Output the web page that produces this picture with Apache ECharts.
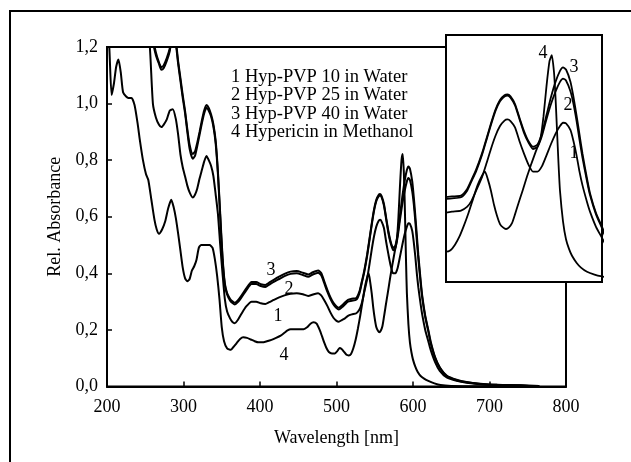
<!DOCTYPE html>
<html><head><meta charset="utf-8">
<script src="https://cdn.jsdelivr.net/npm/echarts@6/dist/echarts.min.js"></script>
<style>html,body{margin:0;padding:0;background:#fff}#c{width:631px;height:462px}</style>
</head><body><div id="c"></div>
<script>
// ---- data ----
const xTickValues = [200, 300, 400, 500, 600, 700, 800];
const yTickValues = [0, 0.2, 0.4, 0.6, 0.8, 1.0, 1.2];
const legendLines = ['1 Hyp-PVP 10 in Water', '2 Hyp-PVP 25 in Water', '3 Hyp-PVP 40 in Water', '4 Hypericin in Methanol'];
const curveNumbers = ['1', '2', '3', '4'];

// wavelengths (nm) shared by the three aqueous Hyp-PVP curves
const wlWater = [
  250, 256, 260, 264, 268, 271, 274, 278, 282, 286,
  290, 293, 296, 299, 302, 305, 308, 312, 315, 318,
  321, 324, 327, 330, 333, 336, 339, 342, 345, 348,
  351, 354, 357, 361, 364, 367, 371, 376, 382, 389,
  395, 401, 407, 412, 418, 425, 432, 440, 448, 456,
  463, 469, 476, 480, 484, 488, 492, 496, 500, 503,
  507, 511, 515, 520, 526, 530, 533, 536, 540, 543,
  546, 549, 552, 555, 557, 559, 562, 565, 568, 571,
  574, 577, 580, 583, 586, 589, 592, 594, 596, 599,
  601, 603, 605, 607, 610, 612, 616, 620, 623, 629,
  635, 644, 657, 670, 688, 710, 740, 765
];
const hypPvp10 = [
  1.35, 1.20, 1.00, 0.95, 0.925, 0.917, 0.925, 0.943, 0.975, 0.98,
  0.945, 0.89, 0.82, 0.775, 0.743, 0.71, 0.686, 0.668, 0.678, 0.70,
  0.735, 0.765, 0.795, 0.815, 0.80, 0.78, 0.745, 0.68, 0.61, 0.50,
  0.40, 0.31, 0.265, 0.24, 0.228, 0.224, 0.235, 0.258, 0.283, 0.30,
  0.30, 0.294, 0.292, 0.298, 0.306, 0.315, 0.322, 0.328, 0.33, 0.326,
  0.32, 0.325, 0.33, 0.322, 0.305, 0.285, 0.262, 0.243, 0.232, 0.229,
  0.235, 0.241, 0.25, 0.255, 0.259, 0.272, 0.294, 0.33, 0.38, 0.43,
  0.483, 0.53, 0.565, 0.585, 0.589, 0.583, 0.56, 0.51, 0.465, 0.425,
  0.40, 0.40, 0.42, 0.459, 0.50, 0.537, 0.565, 0.577, 0.575, 0.55,
  0.51, 0.46, 0.40, 0.35, 0.29, 0.255, 0.20, 0.16, 0.13, 0.085,
  0.055, 0.032, 0.02, 0.013, 0.008, 0.005, 0.003, 0.001
];
const hypPvp25 = [
  1.40, 1.30, 1.22, 1.17, 1.14, 1.12, 1.125, 1.15, 1.185, 1.25,
  1.21, 1.14, 1.08, 1.02, 0.967, 0.90, 0.84, 0.805, 0.815, 0.85,
  0.89, 0.93, 0.965, 0.985, 0.975, 0.955, 0.92, 0.86, 0.75, 0.60,
  0.45, 0.36, 0.325, 0.303, 0.295, 0.29, 0.298, 0.316, 0.34, 0.362,
  0.362, 0.355, 0.352, 0.36, 0.37, 0.38, 0.39, 0.398, 0.40, 0.394,
  0.388, 0.396, 0.402, 0.393, 0.365, 0.335, 0.31, 0.29, 0.277, 0.272,
  0.28, 0.29, 0.30, 0.303, 0.307, 0.33, 0.365, 0.40, 0.46, 0.515,
  0.57, 0.62, 0.655, 0.672, 0.675, 0.668, 0.64, 0.59, 0.54, 0.505,
  0.482, 0.49, 0.53, 0.59, 0.645, 0.69, 0.725, 0.737, 0.73, 0.69,
  0.645, 0.585, 0.515, 0.45, 0.365, 0.315, 0.245, 0.195, 0.155, 0.10,
  0.066, 0.037, 0.022, 0.015, 0.009, 0.006, 0.004, 0.002
];
const hypPvp40 = [
  1.40, 1.30, 1.23, 1.18, 1.145, 1.128, 1.135, 1.16, 1.195, 1.26,
  1.22, 1.15, 1.09, 1.03, 0.975, 0.91, 0.855, 0.822, 0.83, 0.862,
  0.90, 0.94, 0.975, 0.995, 0.985, 0.962, 0.928, 0.87, 0.76, 0.61,
  0.46, 0.365, 0.33, 0.309, 0.301, 0.296, 0.304, 0.322, 0.347, 0.369,
  0.369, 0.362, 0.359, 0.367, 0.377, 0.388, 0.398, 0.406, 0.408, 0.402,
  0.396, 0.404, 0.41, 0.401, 0.372, 0.342, 0.316, 0.296, 0.283, 0.278,
  0.286, 0.297, 0.306, 0.31, 0.313, 0.336, 0.37, 0.406, 0.466, 0.52,
  0.575, 0.625, 0.66, 0.677, 0.68, 0.673, 0.645, 0.595, 0.547, 0.51,
  0.49, 0.498, 0.54, 0.605, 0.67, 0.725, 0.765, 0.778, 0.77, 0.725,
  0.67, 0.605, 0.535, 0.465, 0.375, 0.322, 0.25, 0.20, 0.16, 0.103,
  0.068, 0.039, 0.024, 0.016, 0.01, 0.006, 0.004, 0.002
];

// wavelengths (nm) for Hypericin in methanol
const wlMethanol = [
  200, 203, 206, 209, 212, 215, 218, 221, 225, 228,
  232, 236, 240, 243, 247, 251, 254, 258, 262, 265,
  268, 272, 276, 280, 284, 287, 290, 293, 296, 299,
  302, 305, 308, 311, 314, 317, 320, 323, 334, 338,
  341, 344, 347, 350, 353, 357, 362, 366, 370, 374,
  378, 383, 388, 393, 398, 403, 409, 415, 421, 427,
  432, 436, 440, 450, 457, 462, 466, 470, 474, 478,
  481, 484, 487, 490, 494, 498, 501, 504, 507, 510,
  513, 516, 519, 522, 525, 528, 531, 534, 537, 540,
  542, 544, 546, 548, 550, 552, 554, 556, 558, 560,
  562, 564, 567, 570, 573, 576, 579, 581, 583, 585,
  586.5, 588, 589, 590, 591, 592, 594, 596, 598, 600,
  603, 606, 610, 615, 620, 628, 636, 650, 680, 710
];
const hypMethanol = [
  1.30, 1.20, 1.03, 1.07, 1.13, 1.156, 1.11, 1.04, 1.025, 1.02,
  1.02, 0.995, 0.93, 0.87, 0.80, 0.75, 0.73, 0.66, 0.59, 0.555,
  0.54, 0.555, 0.583, 0.63, 0.66, 0.635, 0.595, 0.54, 0.48, 0.42,
  0.383, 0.372, 0.38, 0.41, 0.425, 0.448, 0.49, 0.50, 0.50, 0.49,
  0.45, 0.39, 0.31, 0.21, 0.16, 0.135, 0.13, 0.142, 0.155, 0.168,
  0.174, 0.172, 0.166, 0.16, 0.156, 0.156, 0.16, 0.165, 0.172, 0.18,
  0.19, 0.198, 0.202, 0.202, 0.202, 0.21, 0.222, 0.227, 0.222, 0.20,
  0.178, 0.155, 0.135, 0.122, 0.117, 0.117, 0.125, 0.136, 0.132, 0.122,
  0.112, 0.11, 0.115, 0.135, 0.165, 0.205, 0.25, 0.30, 0.35, 0.385,
  0.40, 0.37, 0.33, 0.28, 0.24, 0.21, 0.198, 0.192, 0.198, 0.213,
  0.245, 0.28, 0.33, 0.382, 0.43, 0.475, 0.52, 0.60, 0.71, 0.80,
  0.822, 0.76, 0.67, 0.55, 0.43, 0.33, 0.22, 0.155, 0.12, 0.095,
  0.07, 0.052, 0.037, 0.027, 0.02, 0.011, 0.005, 0.002, 0.001, 0.0
];

// ---- chart ----
const FONT = '"Liberation Serif", "Times New Roman", serif';
const pairs = (xs, ys) => xs.map((x, i) => [x, ys[i]]);
const seriesSets = [
  pairs(wlWater, hypPvp10),
  pairs(wlWater, hypPvp25),
  pairs(wlWater, hypPvp40),
  pairs(wlMethanol, hypMethanol)
];

const chart = echarts.init(document.getElementById('c'), null, {renderer: 'canvas'});

const series = [];
seriesSets.forEach((d, i) => {
  series.push({
    type: 'line', xAxisIndex: 0, yAxisIndex: 0, data: d, showSymbol: false,
    smooth: 0.2, clip: true, z: 3, silent: true,
    lineStyle: {color: '#000', width: 2}
  });
  series.push({
    type: 'line', xAxisIndex: 1, yAxisIndex: 1, data: d, showSymbol: false,
    smooth: 0.2, clip: true, z: 12, silent: true,
    lineStyle: {color: '#000', width: 1.8}
  });
});

function textEl(txt, x, y) {
  return {
    type: 'text', z: 20, silent: true,
    style: {
      text: txt, x: x, y: y, fill: '#000',
      font: '18px ' + FONT,
      align: 'center', verticalAlign: 'middle',
      textAlign: 'center', textVerticalAlign: 'middle'
    }
  };
}

const graphics = [
  {type: 'rect', z: 0, silent: true, shape: {x: 10, y: 11, width: 700, height: 600},
   style: {fill: 'none', stroke: '#000', lineWidth: 2}},
  {type: 'text', z: 20, silent: true,
   style: {text: legendLines.join('\n'), x: 231, y: 68, fill: '#000',
           font: '18.5px ' + FONT, lineHeight: 18.3,
           align: 'left', verticalAlign: 'top', textAlign: 'left', textVerticalAlign: 'top'}},
  // main plot curve numbers
  textEl(curveNumbers[2], 271, 270),
  textEl(curveNumbers[1], 289, 289),
  textEl(curveNumbers[0], 278, 316),
  textEl(curveNumbers[3], 284, 355),
  // inset curve numbers
  textEl(curveNumbers[3], 543, 53),
  textEl(curveNumbers[2], 574, 67),
  textEl(curveNumbers[1], 568, 105),
  textEl(curveNumbers[0], 574, 153)
];

const option = {
  backgroundColor: '#fff',
  animation: false,
  textStyle: {fontFamily: FONT, color: '#000'},
  grid: [
    {left: 107, top: 47, right: 65, bottom: 75.5, show: true, borderColor: '#000', borderWidth: 2, z: 0},
    {left: 446, top: 35, width: 156, height: 247, show: true, backgroundColor: '#fff',
     borderColor: '#000', borderWidth: 2, z: 10}
  ],
  xAxis: [
    {type: 'value', gridIndex: 0, min: xTickValues[0], max: xTickValues[xTickValues.length - 1], interval: 100,
     name: 'Wavelength [nm]', nameLocation: 'middle', nameGap: 43,
     nameTextStyle: {fontFamily: FONT, fontSize: 18, color: '#000'},
     axisLine: {show: true, lineStyle: {color: '#000', width: 2}},
     axisTick: {show: true, inside: true, length: 5, lineStyle: {color: '#000', width: 1.5}},
     axisLabel: {fontFamily: FONT, fontSize: 18, color: '#000', margin: 12},
     splitLine: {show: false}},
    {type: 'value', gridIndex: 1, min: 516, max: 620, show: false, splitLine: {show: false}}
  ],
  yAxis: [
    {type: 'value', gridIndex: 0, min: yTickValues[0], max: yTickValues[yTickValues.length - 1], interval: 0.2,
     name: 'Rel. Absorbance', nameLocation: 'middle', nameGap: 40, nameRotate: 90,
     nameTextStyle: {fontFamily: FONT, fontSize: 18, color: '#000'},
     axisLine: {show: true, lineStyle: {color: '#000', width: 2}},
     axisTick: {show: true, inside: true, length: 5, lineStyle: {color: '#000', width: 1.5}},
     axisLabel: {fontFamily: FONT, fontSize: 18, color: '#000', margin: 9,
                 formatter: v => v.toFixed(1).replace('.', ',')},
     splitLine: {show: false}},
    {type: 'value', gridIndex: 1, min: 0, max: 0.895, show: false, splitLine: {show: false}}
  ],
  graphic: graphics,
  series: series
};
chart.setOption(option);
</script>
</body></html>
